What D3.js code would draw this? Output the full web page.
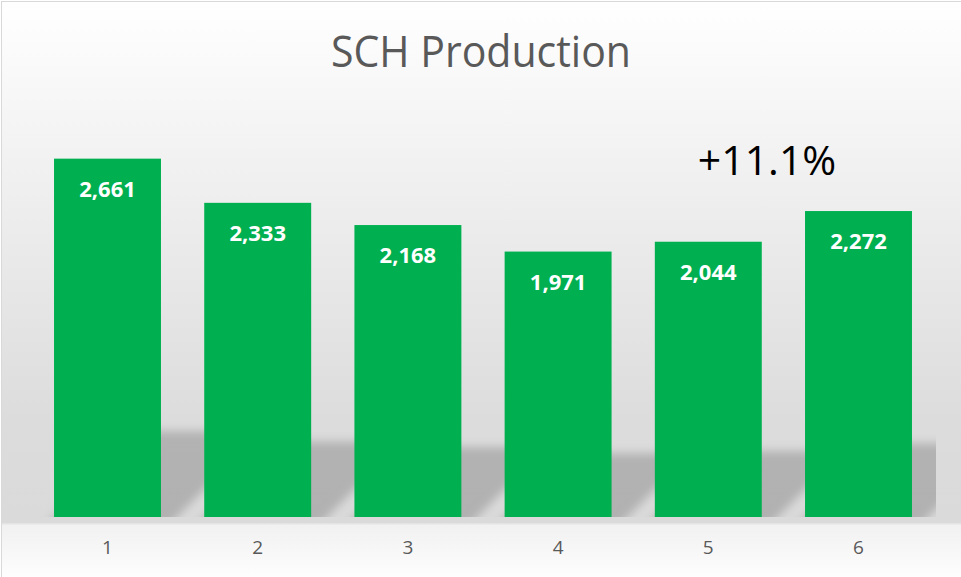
<!DOCTYPE html>
<html><head><meta charset="utf-8">
<script src="https://cdn.jsdelivr.net/npm/d3@7"></script>
<style>html,body{margin:0;padding:0;background:#fff;}svg{display:block;}</style>
</head><body>
<script>
const categories = ["1","2","3","4","5","6"];
const values = [2661, 2333, 2168, 1971, 2044, 2272];
const title = "SCH Production";
const annotation = "+11.1%";

const W = 961, H = 577;
const svg = d3.select("body").append("svg").attr("width", W).attr("height", H);
const defs = svg.append("defs");
const grad = defs.append("linearGradient").attr("id","bg").attr("x1",0).attr("y1",0).attr("x2",0).attr("y2",1);
[[0,"#ffffff"],[0.24,"#f3f3f3"],[0.45,"#e9e9e9"],[0.72,"#dcdcdc"],[0.895,"#dadada"],[0.9,"#f1f1f1"],[1,"#ffffff"]]
  .forEach(([o,c])=>grad.append("stop").attr("offset",o).attr("stop-color",c));
const blur = defs.append("filter").attr("id","blur").attr("x","-30%").attr("y","-60%").attr("width","160%").attr("height","220%");
blur.append("feGaussianBlur").attr("stdDeviation",5);

const x = d3.scaleBand().domain(categories).range([32.4, 933.6]).paddingInner(0.288).paddingOuter(0.144);
const y = d3.scaleLinear().domain([0, 3000]).range([517, 113]);

defs.append("clipPath").attr("id","plotclip").append("rect")
  .attr("x",32).attr("y",y(3000)).attr("width",904).attr("height",y(0)-y(3000));

svg.append("rect").attr("x",1.5).attr("y",1.5).attr("width",W+5).attr("height",H+5)
  .attr("fill","url(#bg)").attr("stroke","#d9d9d9").attr("stroke-width",1);

// perspective shadows (sheared 45°, clipped to the plot area)
const sh = svg.append("g").attr("clip-path","url(#plotclip)").append("g").attr("filter","url(#blur)");
categories.forEach((c,i)=>{
  const x0 = x(c), x1 = x(c)+x.bandwidth(), yb = y(0);
  const hh = (y(0)-y(values[i]))*0.24, s = 16, e = 15;
  sh.append("path")
    .attr("d",`M${x0-e},${yb+e}L${x1+s-e},${yb+e}L${x1+s+hh},${yb-hh}L${x0+hh},${yb-hh}Z`)
    .attr("fill","#000").attr("opacity",0.19);
});

svg.append("g").selectAll("rect").data(values).join("rect")
  .attr("x",(d,i)=>x(categories[i])).attr("y",d=>y(d))
  .attr("width",x.bandwidth()).attr("height",d=>y(0)-y(d))
  .attr("fill","#00B050");

svg.append("g").selectAll("text").data(values).join("text")
  .attr("x",(d,i)=>x(categories[i])+x.bandwidth()/2).attr("y",d=>y(d)+38)
  .attr("text-anchor","middle").attr("font-family","'Open Sans', sans-serif")
  .attr("font-weight","bold").attr("font-size",22).attr("fill","#fff")
  .text(d=>d3.format(",")(d));

const xa = svg.append("g").attr("transform",`translate(0,${y(0)})`)
  .call(d3.axisBottom(x).tickSize(0).tickPadding(24));
xa.select(".domain").remove();
xa.selectAll("text").attr("font-family","'Open Sans', sans-serif").attr("font-size",19).attr("fill","#595959");

svg.append("text").attr("x",481).attr("y",67).attr("text-anchor","middle")
  .attr("font-family","'Open Sans', sans-serif").attr("font-size",43).attr("fill","#595959")
  .attr("textLength",300).attr("lengthAdjust","spacingAndGlyphs").text(title);

svg.append("text").attr("x",767).attr("y",175).attr("text-anchor","middle")
  .attr("font-family","'Open Sans', sans-serif").attr("font-size",41).attr("fill","#000").text(annotation);
</script>
</body></html>
